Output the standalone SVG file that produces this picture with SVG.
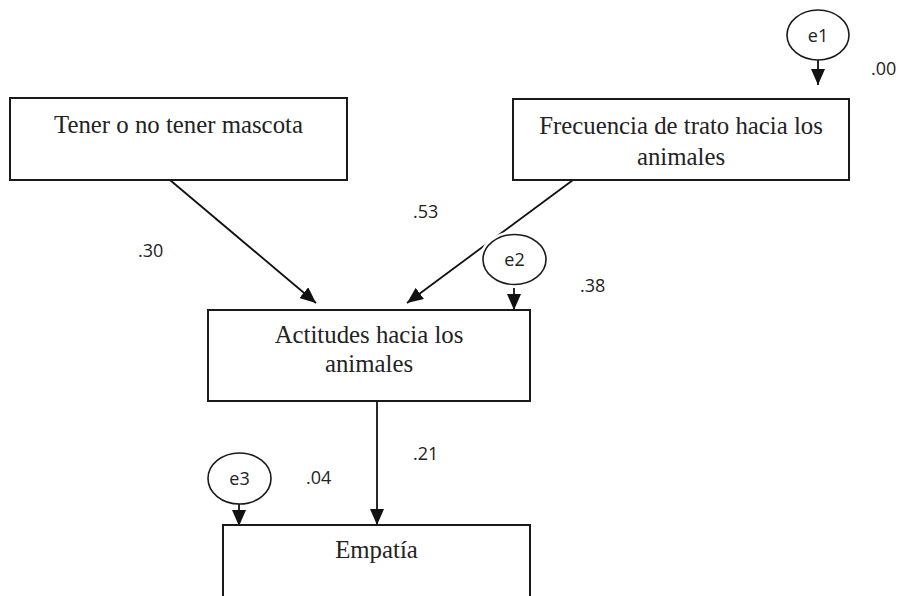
<svg xmlns="http://www.w3.org/2000/svg" width="900" height="596" viewBox="0 0 900 596">
  <defs>
    <marker id="arr" markerUnits="userSpaceOnUse" markerWidth="16" markerHeight="14" refX="16" refY="7" orient="auto">
      <path d="M0,0 L16,7 L0,14 z" fill="#111"/>
    </marker>
  </defs>
  <style>
    .box { fill: #fff; stroke: #1a1a1a; stroke-width: 2; }
    .err { fill: #fff; stroke: #1a1a1a; stroke-width: 1.6; }
    .halo { fill: #fff; stroke: none; }
    .lbl { font-family: "Liberation Serif", "Times New Roman", serif; font-size: 24.8px; fill: #222; text-anchor: middle; }
    .num { font-family: "Open Sans", "Liberation Sans", Arial, sans-serif; font-size: 18px; fill: #222; }
    .etxt { font-family: "Open Sans", "Liberation Sans", Arial, sans-serif; font-size: 18px; fill: #222; text-anchor: middle; }
    .con { stroke: #111; stroke-width: 1.8; fill: none; marker-end: url(#arr); }
  </style>
  <rect width="900" height="596" fill="#fff"/>

  <g id="connectors">
    <line class="con" x1="170" y1="180" x2="316" y2="303"/>
    <line class="con" x1="573" y1="180" x2="407" y2="303"/>
    <line class="con" x1="818" y1="60" x2="818" y2="85"/>
    <line class="con" x1="514" y1="285" x2="514" y2="310"/>
    <line class="con" x1="377" y1="401" x2="377" y2="525"/>
    <line class="con" x1="239" y1="504" x2="239" y2="526"/>
  </g>

  <g id="node-tener">
    <rect class="box" x="10" y="98" width="337" height="82"/>
    <text class="lbl" x="178.5" y="133">Tener o no tener mascota</text>
  </g>

  <g id="node-frecuencia">
    <rect class="box" x="513" y="99" width="336" height="81"/>
    <text class="lbl" x="681" y="134">Frecuencia de trato hacia los</text>
    <text class="lbl" x="681" y="165">animales</text>
  </g>

  <g id="node-actitudes">
    <rect class="box" x="208" y="310" width="322" height="91"/>
    <text class="lbl" x="369" y="343">Actitudes hacia los</text>
    <text class="lbl" x="369" y="372">animales</text>
  </g>

  <g id="node-empatia">
    <rect class="box" x="223" y="525" width="307" height="100"/>
    <text class="lbl" x="376.5" y="558">Empatía</text>
  </g>

  <g id="node-e1">
    <ellipse class="err" cx="818" cy="35" rx="31" ry="25"/>
    <text class="etxt" x="818" y="41.5">e1</text>
  </g>

  <g id="node-e2">
    <ellipse class="halo" cx="514.5" cy="259.5" rx="35" ry="28.5"/>
    <ellipse class="err" cx="514.5" cy="259.5" rx="31.5" ry="25"/>
    <text class="etxt" x="514.5" y="266">e2</text>
  </g>

  <g id="node-e3">
    <ellipse class="err" cx="239.5" cy="478.5" rx="31.5" ry="25.5"/>
    <text class="etxt" x="239.5" y="485">e3</text>
  </g>

  <g id="labels">
    <text class="num" x="871" y="75">.00</text>
    <text class="num" x="413" y="218">.53</text>
    <text class="num" x="138" y="257">.30</text>
    <text class="num" x="580" y="292">.38</text>
    <text class="num" x="413" y="460">.21</text>
    <text class="num" x="306" y="484">.04</text>
  </g>
</svg>
